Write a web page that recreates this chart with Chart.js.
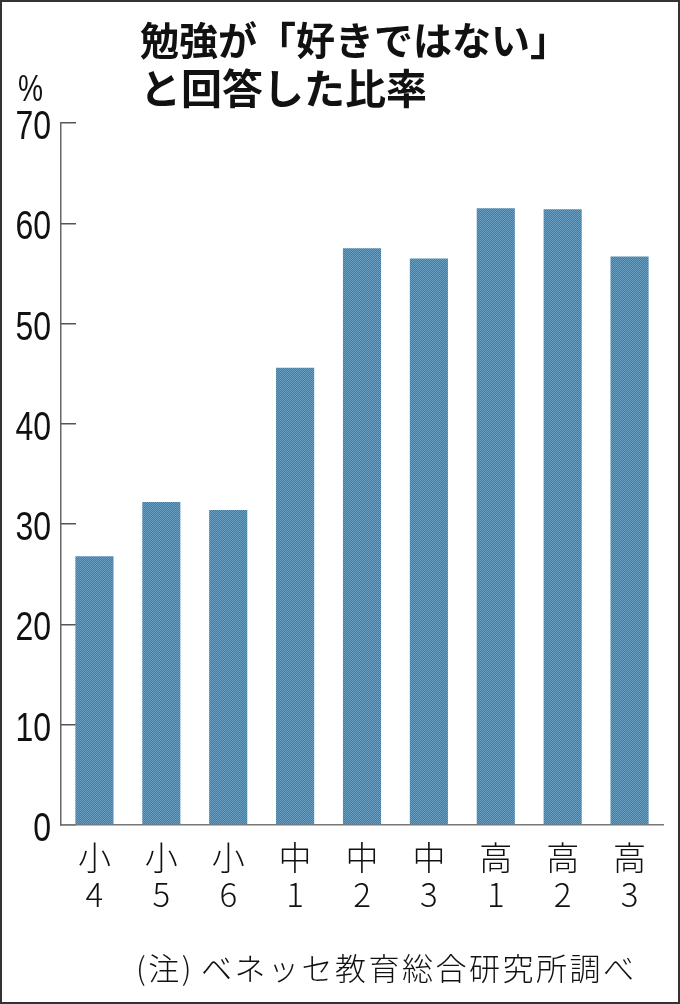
<!DOCTYPE html>
<html lang="ja">
<head>
<meta charset="utf-8">
<script src="https://cdn.jsdelivr.net/npm/chart.js@4.4.1/dist/chart.umd.min.js"></script>
<style>
  html, body { margin: 0; padding: 0; background: #fff; }
  #wrap {
    position: relative; width: 680px; height: 1004px;
    border: 2px solid #333; box-sizing: border-box; overflow: hidden;
  }
  #chart { position: absolute; left: -2px; top: -2px; }
  .txt { position: absolute; white-space: nowrap; color: #111; }
  #title {
    left: 138px; top: 13px; font: bold 39px/47.5px "Noto Sans CJK JP", sans-serif;
  }
  #title span { font-size: 41px; }
  #unit {
    left: 16px; top: 68px; font: 37px/37px "Liberation Sans", Arial, sans-serif;
    transform: scaleX(0.76); transform-origin: left top;
  }
  #note {
    left: 134px; top: 945px; font: 300 31px/40px "Noto Sans CJK JP", sans-serif;
    letter-spacing: 2.5px;
  }
  #note span { margin-left: 7px; }
</style>
</head>
<body>
<div id="wrap">
  <canvas id="chart" width="680" height="1004"></canvas>
  <div class="txt" id="title">勉強が「好きではない」<br><span>と回答した比率</span></div>
  <div class="txt" id="unit">%</div>
  <div class="txt" id="note">(注)<span>ベネッセ教育総合研究所調べ</span></div>
</div>
<script>
// 学年
const grades = [['小', '4'], ['小', '5'], ['小', '6'], ['中', '1'], ['中', '2'], ['中', '3'], ['高', '1'], ['高', '2'], ['高', '3']];
// 「好きではない」と回答した比率（%）
const dislikeRates = [26.8, 32.2, 31.4, 45.6, 57.5, 56.5, 61.5, 61.4, 56.7];
// 目盛り
const yTicks = [0, 10, 20, 30, 40, 50, 60, 70];

// 棒の網目模様
function makePattern() {
    const c = document.createElement('canvas');
    c.width = 2; c.height = 2;
    const g = c.getContext('2d');
    g.fillStyle = '#427ca3'; g.fillRect(0, 0, 2, 2);
    g.fillStyle = '#6a9ec1'; g.fillRect(0, 0, 1, 1); g.fillRect(1, 1, 1, 1);
    return g.createPattern(c, 'repeat');
}

// 縦軸の数字は細長い書体なので横に詰めて描く
const narrowYLabels = {
    id: 'narrowYLabels',
    afterDraw(chart) {
        const s = chart.scales.y;
        const c = chart.ctx;
        c.save();
        c.fillStyle = '#111';
        c.font = '40px "Liberation Sans", Arial, sans-serif';
        c.textAlign = 'right';
        c.textBaseline = 'middle';
        s.ticks.forEach(t => {
            const y = s.getPixelForValue(t.value) + 5;
            c.save();
            c.translate(s.right - 10, y);
            c.scale(0.8, 1);
            c.fillText(String(t.value), 0, 0);
            c.restore();
        });
        c.restore();
    }
};

const ctx = document.getElementById('chart').getContext('2d');
new Chart(ctx, {
    type: 'bar',
    data: {
        labels: grades,
        datasets: [{
            data: dislikeRates,
            backgroundColor: makePattern(),
            borderWidth: 0,
            categoryPercentage: 1,
            barPercentage: 0.57
        }]
    },
    options: {
        responsive: false,
        devicePixelRatio: 1,
        animation: false,
        layout: { padding: { left: 0, right: 17, top: 123, bottom: 79 } },
        plugins: { legend: { display: false }, tooltip: { enabled: false } },
        scales: {
            x: {
                grid: { display: false, drawTicks: false },
                border: { display: true, color: '#777', width: 1.5 },
                ticks: {
                    color: '#111',
                    padding: 14,
                    maxRotation: 0,
                    autoSkip: false,
                    font: { family: '"Noto Sans CJK JP", sans-serif', size: 33, weight: 300, lineHeight: 1.12 }
                },
                afterFit: function (s) { s.height = 100; }
            },
            y: {
                min: 0,
                max: 70,
                afterBuildTicks: function (s) { s.ticks = yTicks.map(v => ({ value: v })); },
                grid: { drawOnChartArea: false, drawTicks: true, tickLength: -15, color: '#555', lineWidth: 1.5 },
                border: { display: true, color: '#666', width: 1.5 },
                ticks: { display: false },
                afterFit: function (s) { s.width = 61; }
            }
        }
    },
    plugins: [narrowYLabels]
});
</script>
</body>
</html>
